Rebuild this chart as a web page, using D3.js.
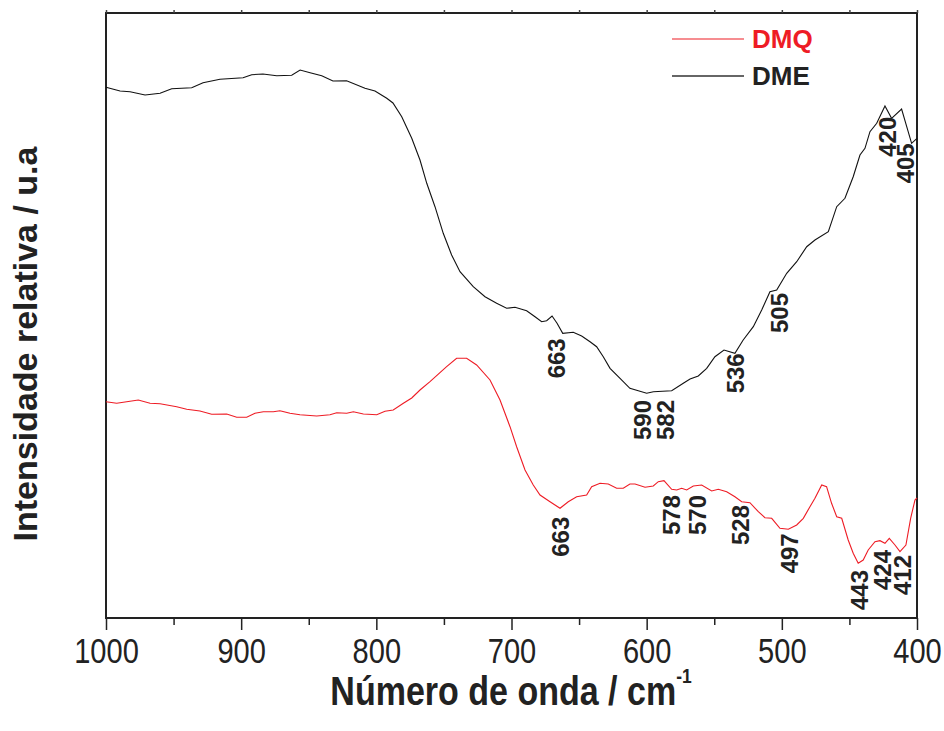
<!DOCTYPE html>
<html><head><meta charset="utf-8">
<script src="https://cdn.jsdelivr.net/npm/d3@7"></script>
<style>
html,body{margin:0;padding:0;background:#fff;}
svg{display:block;}
</style>
</head><body>
<svg id="chart" width="944" height="731"></svg>
<script>
// Wavenumbers (cm^-1) and relative intensities (arbitrary units)
const waveDME = [1000, 989.6, 982.2, 971.1, 960.0, 951.4, 936.6, 928.2, 915.7, 898.6, 892.2, 883.9, 873.7, 862.6, 856.4, 849.0, 840.4, 832.1, 822.0, 808.4, 801.0, 792.3, 787.7, 781.2, 773.8, 767.7, 762.7, 756.6, 750.5, 744.3, 738.1, 728.3, 719.6, 711.0, 703.6, 697.4, 688.8, 682.6, 677.7, 674.0, 670.0, 666.3, 662.1, 654.3, 648.1, 641.9, 637.0, 632.1, 627.1, 619.7, 612.4, 600.0, 595.0, 581.5, 572.9, 567.9, 561.8, 555.6, 549.5, 542.8, 534.7, 528.6, 521.1, 514.9, 508.8, 503.8, 496.4, 489.0, 481.6, 475.5, 465.6, 459.4, 453.3, 447.2, 442.2, 438.5, 434.8, 429.8, 423.7, 418.8, 411.4, 407.6, 404.0, 400];
const intensityDME = [530.7, 527, 526.3, 523, 524.7, 529.3, 530.3, 535.3, 538.7, 540.3, 543.3, 544, 542.3, 542.7, 548, 545.3, 542.3, 537, 537.3, 529.7, 527, 519.7, 515, 501.3, 479.7, 458, 434.7, 411.3, 384.7, 363, 346.3, 331.3, 321.3, 314.7, 309.7, 310.7, 307.3, 301.3, 296.3, 297.3, 302, 294.7, 284.7, 285.7, 282, 276.3, 271.3, 261.3, 249.7, 239.7, 229.7, 224.7, 226.3, 227.3, 234.7, 239, 242, 249.7, 261.3, 268, 264.7, 278, 291.3, 308, 326.3, 328, 344.7, 356.3, 371.3, 378, 386.3, 411.3, 419.7, 441.3, 463, 469.7, 486.3, 494.7, 512, 499.7, 509, 491.3, 474.7, 479.7];

const waveDMQ = [1000, 992.1, 984.7, 976.1, 967.4, 960, 947.7, 940.3, 930.5, 921.8, 910.7, 903.3, 895.9, 889.8, 883.6, 876.2, 871.3, 863.9, 856.5, 844.1, 834.3, 829.3, 821.9, 817, 809.6, 799.7, 793.6, 787.5, 780, 773.8, 767.7, 760.3, 748, 740.6, 733.2, 725.8, 715.9, 708.5, 701.1, 696.2, 690, 683.9, 678.9, 671.5, 664.1, 658, 651.8, 644.4, 640.7, 634.5, 628.4, 622.2, 617.3, 612.4, 608.6, 601.2, 595.1, 591.4, 587.2, 581.5, 577.8, 574.1, 570.4, 565.5, 559.3, 551.9, 547, 540.8, 534.7, 529.7, 523.6, 517.4, 512.5, 507.5, 501.4, 495.2, 489, 484.1, 479.2, 475.5, 470.5, 466.9, 463.2, 459.4, 455.7, 450.9, 447.2, 443.5, 439.8, 436.1, 431.1, 427.4, 423.7, 420.5, 416.3, 412.6, 408.2, 404.7, 401.5, 400];
const intensityDMQ = [216.3, 214.7, 216.3, 218, 214.7, 214.3, 211.3, 208.7, 207, 203.7, 204, 200.7, 200.7, 204.7, 206.3, 206.3, 207.3, 204.7, 203.3, 202, 203.3, 205.3, 204.7, 206.3, 204, 203.3, 206.7, 208, 214.7, 220, 228, 236.3, 251.3, 259.7, 259.7, 253, 238, 218, 191.3, 171.3, 148, 133, 123, 116.3, 109.7, 116.3, 121.3, 123, 131.3, 134.7, 134, 129.7, 129.7, 134, 134, 130.7, 132, 136.3, 137.3, 128.7, 128, 129.7, 128, 132, 133, 127, 128.7, 126.3, 121.3, 116.3, 115.3, 106.3, 100.3, 99.7, 89.7, 88.7, 93, 99.7, 111.3, 119.7, 133, 131.3, 114.7, 101.3, 99.7, 78, 64.7, 54.7, 58, 68, 76.3, 77.3, 74.7, 79.7, 73, 66.3, 73, 99.7, 118, 120];

// Peak annotations: text, anchor wavenumber, anchor intensity (top of label)
const peakTextDME = ["663", "590", "582", "536", "505", "420", "405"];
const peakWaveDME = [666.6, 603.1, 586.5, 534.7, 502.1, 421.9, 408.3];
const peakTopDME = [279.7, 218, 218, 264.7, 325, 501.3, 474.7];
const peakTextDMQ = ["663", "578", "570", "528", "497", "443", "424", "412"];
const peakWaveDMQ = [663.5, 581.5, 562.4, 530.4, 494.6, 442.4, 425.8, 410.8];
const peakTopDMQ = [101.3, 123, 123, 113, 84.7, 48, 68, 63];

const seriesNames = ["DMQ", "DME"];
const xTickValues = [1000, 900, 800, 700, 600, 500, 400];
const xMinorTickValues = [950, 850, 750, 650, 550, 450];
const xTitle = "Número de onda / cm";
const xTitleSup = "-1";
const yTitle = "Intensidade relativa / u.a";

const svg = d3.select("#chart");
const L = 106, R = 917, T = 13, B = 618;
const x = d3.scaleLinear().domain([1000, 400]).range([L, R]);
const y = d3.scaleLinear().domain([0, 605]).range([B, T]);

const colorDMQ = "#ee1c25", colorDME = "#111";
const sans = "'Liberation Sans',Arial,Helvetica,sans-serif";
const condense = 0.83;

// frame
svg.append("rect").attr("x", L).attr("y", T).attr("width", R - L).attr("height", B - T)
  .attr("fill", "none").attr("stroke", "#222").attr("stroke-width", 2);

// bottom axis
const bottomAxis = svg.append("g").attr("transform", `translate(0,${B})`)
  .call(d3.axisBottom(x).tickValues(xTickValues).tickSize(12).tickPadding(8).tickFormat(d3.format("d")));
bottomAxis.select(".domain").remove();
bottomAxis.selectAll(".tick line").attr("stroke", "#222").attr("stroke-width", 1.5);
bottomAxis.selectAll(".tick text").attr("font-family", sans).attr("font-size", 35)
  .attr("fill", "#222").attr("transform", `scale(${condense},1)`);
const bottomMinor = svg.append("g").attr("transform", `translate(0,${B})`)
  .call(d3.axisBottom(x).tickValues(xMinorTickValues).tickSize(7).tickFormat(""));
bottomMinor.select(".domain").remove();
bottomMinor.selectAll(".tick line").attr("stroke", "#222").attr("stroke-width", 1.5);

// top axis (small ticks)
const topAxis = svg.append("g").attr("transform", `translate(0,${T})`)
  .call(d3.axisTop(x).tickValues(xTickValues.concat(xMinorTickValues)).tickSize(3).tickFormat(""));
topAxis.select(".domain").remove();
topAxis.selectAll(".tick line").attr("stroke", "#444").attr("stroke-width", 1.5);

// lines
const line = d3.line().x(d => x(d[0])).y(d => y(d[1]));
svg.append("path").datum(d3.zip(waveDMQ, intensityDMQ)).attr("d", line)
  .attr("fill", "none").attr("stroke", colorDMQ).attr("stroke-width", 1.1);
svg.append("path").datum(d3.zip(waveDME, intensityDME)).attr("d", line)
  .attr("fill", "none").attr("stroke", colorDME).attr("stroke-width", 1.1);

// peak labels
function peakLabels(texts, waves, tops) {
  texts.forEach((t, i) => {
    svg.append("text")
      .attr("transform", `translate(${x(waves[i])},${y(tops[i])}) rotate(-90)`)
      .attr("text-anchor", "end").attr("dy", "0.36em")
      .attr("font-family", sans).attr("font-weight", "bold").attr("font-size", 24)
      .attr("fill", "#222").text(t);
  });
}
peakLabels(peakTextDME, peakWaveDME, peakTopDME);
peakLabels(peakTextDMQ, peakWaveDMQ, peakTopDMQ);

// legend
const leg = [{name: seriesNames[0], color: colorDMQ, y: 39, tc: "#ee1c25", w: 1.1},
             {name: seriesNames[1], color: "#333", y: 76, tc: "#222", w: 1.4}];
leg.forEach(d => {
  svg.append("line").attr("x1", 672).attr("x2", 744).attr("y1", d.y).attr("y2", d.y)
    .attr("stroke", d.color).attr("stroke-width", d.w);
  svg.append("text").attr("x", 752).attr("y", d.y + 9).attr("font-family", sans)
    .attr("font-weight", "bold").attr("font-size", 26).attr("fill", d.tc).text(d.name);
});

// axis titles
const xt = svg.append("text").attr("transform", `translate(511,705) scale(${condense},1)`)
  .attr("text-anchor", "middle")
  .attr("font-family", sans).attr("font-weight", "bold").attr("font-size", 41).attr("fill", "#222");
xt.append("tspan").text(xTitle);
xt.append("tspan").attr("dy", -22).attr("font-size", 21).text(xTitleSup);

svg.append("text").attr("transform", "translate(37,344) rotate(-90)").attr("text-anchor", "middle")
  .attr("font-family", sans).attr("font-weight", "bold").attr("font-size", 34).attr("fill", "#222")
  .text(yTitle);
</script>
</body></html>
